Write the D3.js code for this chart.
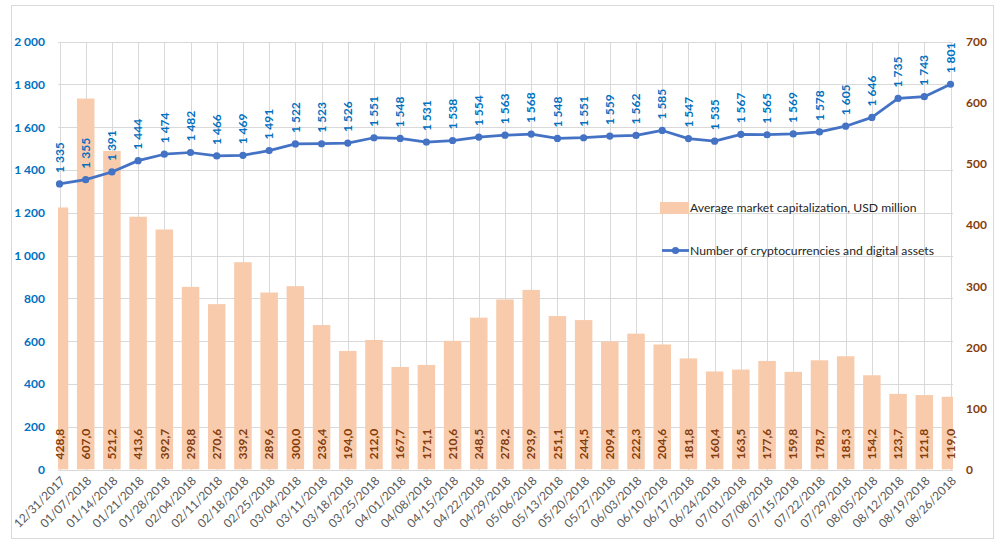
<!DOCTYPE html>
<html>
<head>
<meta charset="utf-8">
<script src="https://cdn.jsdelivr.net/npm/d3@7"></script>
<style>
  body { margin: 0; background: #fff; }
  svg text { font-family: Lato, "Open Sans", sans-serif; }
</style>
</head>
<body>
<div id="chart"></div>
<script>
// weekly dates
var dates = ['12/31/2017', '01/07/2018', '01/14/2018', '01/21/2018', '01/28/2018', '02/04/2018',
  '02/11/2018', '02/18/2018', '02/25/2018', '03/04/2018', '03/11/2018', '03/18/2018', '03/25/2018',
  '04/01/2018', '04/08/2018', '04/15/2018', '04/22/2018', '04/29/2018', '05/06/2018', '05/13/2018',
  '05/20/2018', '05/27/2018', '06/03/2018', '06/10/2018', '06/17/2018', '06/24/2018', '07/01/2018',
  '07/08/2018', '07/15/2018', '07/22/2018', '07/29/2018', '08/05/2018', '08/12/2018', '08/19/2018',
  '08/26/2018'];

// bars, right axis (USD million)
var avgCap = [428.8, 607.0, 521.2, 413.6, 392.7, 298.8, 270.6, 339.2, 289.6, 300.0, 236.4, 194.0,
  212.0, 167.7, 171.1, 210.6, 248.5, 278.2, 293.9, 251.1, 244.5, 209.4, 222.3, 204.6, 181.8, 160.4,
  163.5, 177.6, 159.8, 178.7, 185.3, 154.2, 123.7, 121.8, 119.0];

// line, left axis
var coinCount = [1335, 1355, 1391, 1444, 1474, 1482, 1466, 1469, 1491, 1522, 1523, 1526, 1551, 1548,
  1531, 1538, 1554, 1563, 1568, 1548, 1551, 1559, 1562, 1585, 1547, 1535, 1567, 1565, 1569, 1578,
  1605, 1646, 1735, 1743, 1801];

var leftTicks = [0, 200, 400, 600, 800, 1000, 1200, 1400, 1600, 1800, 2000];
var rightTicks = [0, 100, 200, 300, 400, 500, 600, 700];

var seriesNames = ['Average market capitalization, USD million',
  'Number of cryptocurrencies and digital assets'];

var barColor = '#f8cbad',
  lineColor = '#4472c4',
  gridColor = '#d9d9d9';

var W = 1000, H = 543;
var plotL = 58, plotR = 953, plotT = 41.7, plotB = 469.5;

// excel-ish number formatting: "1 335", "428,8"
var loc = d3.formatLocale({ decimal: ',', thousands: '\u00a0', grouping: [3], currency: ['', ''] });
var fmtInt = loc.format(',d');
var fmtDec = loc.format('.1f');

var svg = d3.select('#chart').append('svg')
  .attr('width', W)
  .attr('height', H);

// chart border
svg.append('rect')
  .attr('x', 11.5).attr('y', 5.5)
  .attr('width', 982).attr('height', 533)
  .style('fill', '#fff')
  .style('stroke', gridColor);

var x = d3.scalePoint().domain(dates).range([59.5, 950.5]);
var yL = d3.scaleLinear().domain([0, 2000]).range([plotB, plotT]);
var yR = d3.scaleLinear().domain([0, 700]).range([plotB, plotT]);

/* gridlines */
var gridY = svg.append('g')
  .attr('transform', 'translate(' + plotL + ',0)')
  .call(d3.axisLeft(yL).tickValues(leftTicks).tickSize(-(plotR - plotL)).tickFormat(''));
var gridX = svg.append('g')
  .attr('transform', 'translate(0,' + plotB + ')')
  .call(d3.axisBottom(x).tickSize(-(plotB - plotT)).tickFormat(''));
[gridY, gridX].forEach(function (g) {
  g.select('.domain').remove();
  g.selectAll('line').style('stroke', gridColor).style('shape-rendering', 'crispEdges');
});

/* bars, clipped to plot area (first and last are half bars) */
svg.append('clipPath').attr('id', 'plotClip')
  .append('rect')
  .attr('x', plotL).attr('y', 0)
  .attr('width', plotR - plotL).attr('height', plotB);

var barW = 17.5;
svg.append('g').attr('clip-path', 'url(#plotClip)')
  .selectAll('rect')
  .data(avgCap)
  .enter().append('rect')
  .attr('x', function (d, i) { return x(dates[i]) - barW / 2; })
  .attr('y', function (d) { return yR(d); })
  .attr('width', barW)
  .attr('height', function (d) { return yR(0) - yR(d); })
  .style('fill', barColor);

// bar labels, inside base
svg.append('g').selectAll('text')
  .data(avgCap)
  .enter().append('text')
  .attr('transform', function (d, i) { return 'translate(' + x(dates[i]) + ',' + (plotB - 10) + ') rotate(-90)'; })
  .attr('dy', '0.35em')
  .attr('font-size', 12)
  .attr('font-weight', 'bold')
  .style('fill', '#843c0c')
  .text(function (d) { return fmtDec(d); });

/* line */
var line = d3.line()
  .x(function (d, i) { return x(dates[i]); })
  .y(function (d) { return yL(d); });

svg.append('path')
  .datum(coinCount)
  .attr('d', line)
  .style('fill', 'none')
  .style('stroke', lineColor)
  .style('stroke-width', 2.75)
  .style('stroke-linejoin', 'round');

svg.append('g').selectAll('circle')
  .data(coinCount)
  .enter().append('circle')
  .attr('cx', function (d, i) { return x(dates[i]); })
  .attr('cy', function (d) { return yL(d); })
  .attr('r', 3.6)
  .style('fill', lineColor);

svg.append('g').selectAll('text')
  .data(coinCount)
  .enter().append('text')
  .attr('transform', function (d, i) { return 'translate(' + x(dates[i]) + ',' + (yL(d) - 11) + ') rotate(-90)'; })
  .attr('dy', '0.35em')
  .attr('font-size', 12)
  .attr('font-weight', 'bold')
  .style('fill', '#0070c0')
  .text(function (d) { return fmtInt(d); });

/* axes */
var axL = svg.append('g')
  .attr('transform', 'translate(' + (plotL - 13) + ',0)')
  .call(d3.axisLeft(yL).tickValues(leftTicks).tickSize(0).tickPadding(0).tickFormat(fmtInt));
axL.selectAll('text')
  .attr('font-size', 12).attr('font-weight', 'bold')
  .style('fill', '#0070c0');

var axR = svg.append('g')
  .attr('transform', 'translate(' + (plotR + 13) + ',0)')
  .call(d3.axisRight(yR).tickValues(rightTicks).tickSize(0).tickPadding(0).tickFormat(fmtInt));
axR.selectAll('text')
  .attr('font-size', 12).attr('font-weight', 'bold')
  .style('fill', '#843c0c');

var axX = svg.append('g')
  .attr('transform', 'translate(0,' + plotB + ')')
  .call(d3.axisBottom(x).tickSize(0).tickPadding(0));
axX.selectAll('text')
  .attr('font-size', 12)
  .attr('text-anchor', 'end')
  .attr('y', 0).attr('dy', 0)
  .attr('transform', 'translate(6,12) rotate(-45)')
  .style('fill', '#595959');

[axL, axR, axX].forEach(function (g) {
  g.select('.domain').remove();
  g.attr('font-family', null);
});

/* legend (transparent, sits over the gridlines) */
var leg = svg.append('g');
leg.append('rect')
  .attr('x', 660).attr('y', 202)
  .attr('width', 29).attr('height', 12)
  .style('fill', barColor);
leg.append('text')
  .attr('x', 690).attr('y', 212)
  .attr('font-size', 12.2)
  .style('fill', '#262626')
  .text(seriesNames[0]);

leg.append('line')
  .attr('x1', 662).attr('x2', 689)
  .attr('y1', 250.5).attr('y2', 250.5)
  .style('stroke', lineColor)
  .style('stroke-width', 2.75);
leg.append('circle')
  .attr('cx', 675.5).attr('cy', 250.5).attr('r', 3.6)
  .style('fill', lineColor);
leg.append('text')
  .attr('x', 690).attr('y', 254.5)
  .attr('font-size', 12.2)
  .style('fill', '#262626')
  .text(seriesNames[1]);
</script>
</body>
</html>
